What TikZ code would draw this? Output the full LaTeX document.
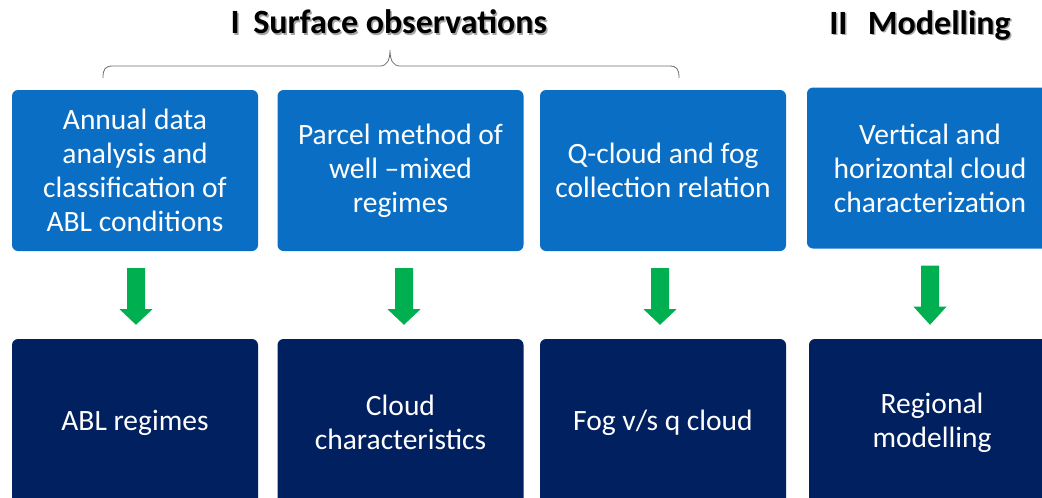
\documentclass[tikz,border=0pt]{standalone}
\usepackage{fontspec}
\setmainfont{Carlito}
\usetikzlibrary{calc}
\definecolor{stepblue}{HTML}{0A6EC4}
\definecolor{resultnavy}{HTML}{002060}
\definecolor{arrowgreen}{HTML}{00B050}
\definecolor{bracegray}{HTML}{6E6E6E}
\tikzset{
  topbox/.style={rectangle, rounded corners=6pt, fill=stepblue, text=white,
    minimum width=246pt, minimum height=161pt, inner sep=0pt,
    align=center, font=\fontsize{29.5}{34}\selectfont},
  resultbox/.style={topbox, fill=resultnavy, minimum height=167pt},
  heading/.style={font=\bfseries\fontsize{34}{38}\selectfont, inner sep=0pt},
  headshadow/.style={heading, text=black!35},
  greenarrow/.style={fill=arrowgreen}
}
\begin{document}
\begin{tikzpicture}[x=1pt,y=-1pt]
  \useasboundingbox (0,0) rectangle (1042,498);
  \clip (0,0) rectangle (1042,498);

  % section headings (with a soft drop shadow)
  \node[headshadow] at (390.5,23.5) {I\hspace{0.4em}Surface observations};
  \node[heading] (h1) at (389,22) {I\hspace{0.4em}Surface observations};
  \node[headshadow] at (921.5,26.5) {II\hspace{0.6em}Modelling};
  \node[heading] (h2) at (920,25) {II\hspace{0.6em}Modelling};

  % brace grouping the three observation steps
  \coordinate (bl) at (103,78);
  \coordinate (bt) at (390,50);
  \coordinate (br) at (679,78);
  \draw[bracegray, line width=0.8pt]
    (bl) .. controls (103,69) and (105,66) .. (113,66) -- (380,66)
    .. controls (387,66) and (390,60) .. (bt)
    .. controls (390,60) and (393,66) .. (400,66) -- (669,66)
    .. controls (677,66) and (679,69) .. (br);

  % method boxes
  \node[topbox] (t1) at (135,170.5) {Annual data\\analysis and\\classification of\\ABL conditions};
  \node[topbox] (t2) at (400.5,170.5) {Parcel method of\\well –mixed\\regimes};
  \node[topbox] (t3) at (663,170.5) {Q-cloud and fog\\collection relation};
  \node[topbox] (t4) at (930,168) {Vertical and\\horizontal cloud\\characterization};

  % result boxes (they run past the lower edge)
  \node[resultbox] (b1) at (135,422.5) {ABL regimes};
  \node[resultbox] (b2) at (400.5,422.5) {Cloud\\characteristics};
  \node[resultbox] (b3) at (663,422.5) {Fog v/s q cloud};
  \node[resultbox] (b4) at (932,422.5) {Regional\\modelling};

  % block arrows from each method to its result
  \foreach \i/\dx in {1/1,2/3.5,3/-3,4/0}{
    \coordinate (tip\i) at (t\i.south|-b\i.north);
    \fill[greenarrow]
      ($(t\i.south)+(\dx-9,17)$) -- ($(t\i.south)+(\dx+9,17)$)
      -- ($(t\i.south)+(\dx+9,58)$) -- ($(t\i.south)+(\dx+16.5,58)$)
      -- ($(tip\i)+(\dx,-14)$)
      -- ($(t\i.south)+(\dx-16.5,58)$) -- ($(t\i.south)+(\dx-9,58)$) -- cycle;
  }
\end{tikzpicture}
\end{document}
